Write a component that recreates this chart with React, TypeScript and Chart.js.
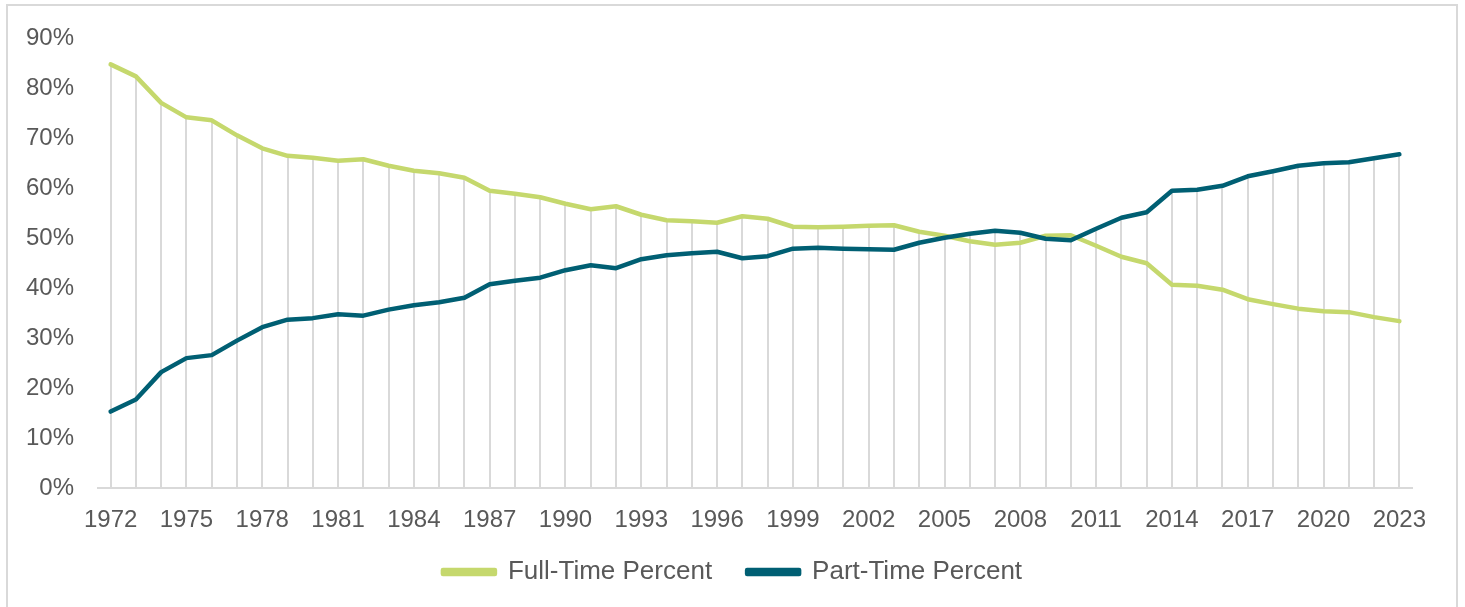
import React, { useEffect, useRef } from "react";
import { Chart, registerables } from "chart.js";

Chart.register(...registerables);

const years = [
  "1972", "1973", "1974", "1975", "1976", "1977", "1978", "1979", "1980", "1981",
  "1982", "1983", "1984", "1985", "1986", "1987", "1988", "1989", "1990", "1991",
  "1992", "1993", "1994", "1995", "1996", "1997", "1998", "1999", "2000", "2001",
  "2002", "2003", "2004", "2005", "2006", "2007", "2008", "2009", "2010", "2011",
  "2012", "2013", "2014", "2015", "2016", "2017", "2018", "2019", "2020", "2021",
  "2022", "2023",
];

const fullTime = [
  84.8, 82.4, 77.1, 74.2, 73.6, 70.6, 68.0, 66.5, 66.1, 65.5,
  65.8, 64.5, 63.5, 63.0, 62.1, 59.5, 58.9, 58.2, 56.9, 55.8,
  56.4, 54.7, 53.6, 53.4, 53.1, 54.4, 53.9, 52.3, 52.2, 52.3,
  52.5, 52.6, 51.3, 50.5, 49.4, 48.7, 49.1, 50.5, 50.6, 48.5,
  46.3, 45.0, 40.7, 40.5, 39.7, 37.8, 36.8, 35.9, 35.4, 35.2,
  34.2, 33.4,
];

const partTime = [
  15.3, 17.7, 23.2, 26.0, 26.6, 29.5, 32.2, 33.7, 34.0, 34.8,
  34.5, 35.7, 36.6, 37.2, 38.1, 40.8, 41.5, 42.1, 43.6, 44.6,
  44.0, 45.8, 46.6, 47.0, 47.3, 46.0, 46.4, 47.9, 48.1, 47.9,
  47.8, 47.7, 49.1, 50.1, 50.9, 51.5, 51.1, 49.9, 49.6, 51.9,
  54.1, 55.2, 59.5, 59.7, 60.5, 62.4, 63.4, 64.5, 65.0, 65.2,
  66.0, 66.8,
];

const yTicks = [0, 10, 20, 30, 40, 50, 60, 70, 80, 90];

const FONT = "'Liberation Sans', Arial, sans-serif";
const TEXT = "#595959";
const FT_COLOR = "#C5D86D";
const PT_COLOR = "#005F73";
const GRID = "#D9D9D9";

const dropLines = {
  id: "dropLines",
  beforeDatasetsDraw(chart: any) {
    const { ctx, chartArea, scales } = chart;
    const x = scales.x;
    const y = scales.y;
    ctx.save();
    ctx.strokeStyle = GRID;
    ctx.lineWidth = 2;
    for (let i = 0; i < years.length; i++) {
      const top = Math.max(fullTime[i], partTime[i]);
      const px = Math.round(x.getPixelForValue(i));
      ctx.beginPath();
      ctx.moveTo(px, y.getPixelForValue(top));
      ctx.lineTo(px, chartArea.bottom);
      ctx.stroke();
    }
    ctx.restore();
  },
};

// let the x tick labels extend below the (short) x-axis box without clipping
const unclipXLabels = {
  id: "unclipXLabels",
  afterLayout(chart: any) {
    const x = chart.scales.x;
    if (x) x.bottom = chart.height;
  },
};

export default function App() {
  const ref = useRef<HTMLCanvasElement>(null);

  useEffect(() => {
    if (!ref.current) return;
    const chart = new Chart(ref.current, {
      type: "line",
      data: {
        labels: years,
        datasets: [
          {
            label: "Full-Time Percent",
            data: fullTime,
            borderColor: FT_COLOR,
            backgroundColor: FT_COLOR,
            borderWidth: 4.5,
            pointRadius: 0,
            tension: 0,
            borderJoinStyle: "round",
            borderCapStyle: "round",
            order: 1,
          },
          {
            label: "Part-Time Percent",
            data: partTime,
            borderColor: PT_COLOR,
            backgroundColor: PT_COLOR,
            borderWidth: 4.5,
            pointRadius: 0,
            tension: 0,
            borderJoinStyle: "round",
            borderCapStyle: "round",
            order: 0,
          },
        ],
      },
      options: {
        responsive: false,
        animation: false,
        layout: { padding: { top: 35, right: 0, bottom: 12, left: 0 } },
        plugins: {
          tooltip: { enabled: false },
          legend: {
            position: "bottom",
            labels: {
              font: { family: FONT, size: 26 },
              color: TEXT,
              boxWidth: 52,
              boxHeight: 4,
              padding: 35,
              sort: (a: any, b: any) => a.datasetIndex - b.datasetIndex,
            },
          },
        },
        scales: {
          x: {
            offset: true,
            grid: { display: false, drawTicks: false },
            border: { display: true, color: GRID, width: 2 },
            ticks: {
              autoSkip: false,
              maxRotation: 0,
              padding: 18,
              color: TEXT,
              font: { family: FONT, size: 24 },
              callback: (_v: any, i: number) => (i % 3 === 0 ? years[i] : ""),
            },
            afterFit: (s: any) => {
              s.height = 36;
            },
          },
          y: {
            min: 0,
            max: 90,
            grid: { display: false, drawTicks: false },
            border: { display: false },
            afterBuildTicks: (s: any) => {
              s.ticks = yTicks.map((v) => ({ value: v }));
            },
            ticks: {
              padding: 24,
              color: TEXT,
              font: { family: FONT, size: 24 },
              callback: (v: any) => v + "%",
            },
            afterFit: (s: any) => {
              s.width = 98;
            },
          },
          y2: {
            position: "right",
            grid: { display: false, drawTicks: false },
            border: { display: false },
            ticks: { display: false },
            afterFit: (s: any) => {
              s.width = 53;
            },
          },
        },
      },
      plugins: [dropLines, unclipXLabels],
    } as any);
    return () => chart.destroy();
  }, []);

  return (
    <div
      style={{
        position: "absolute",
        left: 0,
        top: 0,
        width: 1465,
        height: 607,
        overflow: "hidden",
        background: "#fff",
      }}
    >
      <div
        style={{
          position: "absolute",
          left: 6,
          top: 4,
          width: 1448,
          height: 640,
          border: "2px solid #D9D9D9",
        }}
      />
      <canvas
        ref={ref}
        width={1465}
        height={607}
        style={{ position: "absolute", left: 0, top: 0, width: 1465, height: 607 }}
      />
    </div>
  );
}
